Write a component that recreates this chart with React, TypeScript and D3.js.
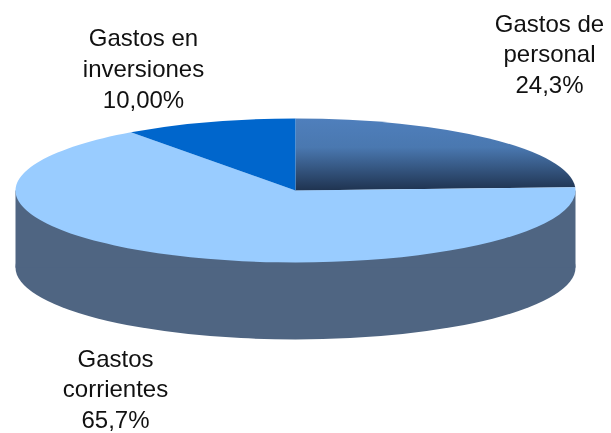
import React from "react";
import * as d3 from "d3";

const categories = ["Gastos de personal", "Gastos corrientes", "Gastos en inversiones"];
const shares = [24.3, 65.7, 10.0];
const labelLines = [
  ["Gastos de", "personal", "24,3%"],
  ["Gastos", "corrientes", "65,7%"],
  ["Gastos en", "inversiones", "10,00%"],
];
const labelCentres = [
  [549.5, 31.5],
  [115.5, 366.5],
  [143.5, 46],
];
const fills = ["url(#personal)", "#99ccff", "#0066cc"];

const W = 611, H = 433;
const cx = 295.5, cy = 190.5, rx = 280, ry = 72, depth = 77;

export default function App() {
  const pie = d3.pie<number>().sort(null).value((d) => d);
  const arcs = pie(shares);
  const arc = d3.arc<d3.PieArcDatum<number>>().innerRadius(0).outerRadius(rx);
  const full = d3.arc()({ innerRadius: 0, outerRadius: rx, startAngle: 0, endAngle: 2 * Math.PI }) as string;
  const sy = ry / rx;
  return (
    <svg width={W} height={H} style={{ position: "fixed", left: 0, top: 0 }} fontFamily="'Liberation Sans', Arial, sans-serif">
      <defs>
        <linearGradient id="personal" gradientUnits="userSpaceOnUse" x1="0" x2="0" y1={-rx} y2={0}>
          <stop offset="0" stopColor="#4f7fbc" />
          <stop offset="0.4" stopColor="#4a78b0" />
          <stop offset="1" stopColor="#1f3350" />
        </linearGradient>
      </defs>
      <g transform={`translate(${cx},${cy + depth}) scale(1,${sy})`}>
        <path d={full} fill="#4f6582" />
      </g>
      <rect x={cx - rx} y={cy} width={2 * rx} height={depth} fill="#4f6582" />
      <g transform={`translate(${cx},${cy}) scale(1,${sy})`}>
        {arcs.map((a, i) => (
          <path key={categories[i]} d={arc(a) as string} fill={fills[i]} />
        ))}
      </g>
      {labelLines.map((lines, i) => (
        <text key={i} textAnchor="middle" fontSize={24} fill="#111">
          {lines.map((l, j) => (
            <tspan key={j} x={labelCentres[i][0]} y={labelCentres[i][1] + j * 30.8}>{l}</tspan>
          ))}
        </text>
      ))}
    </svg>
  );
}
